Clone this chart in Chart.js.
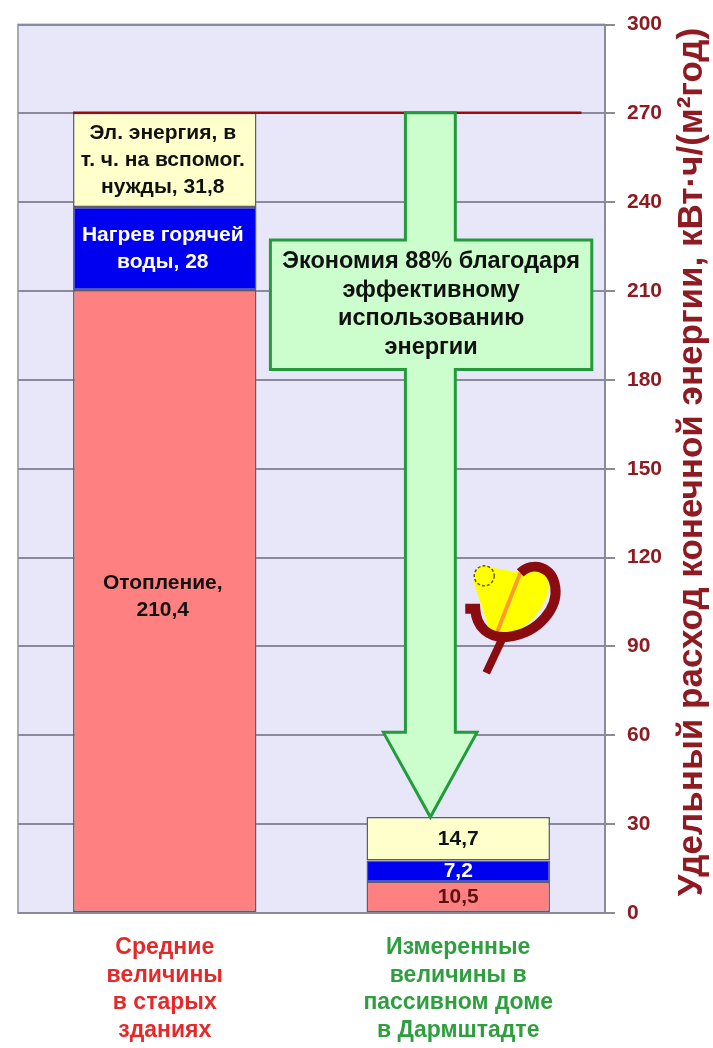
<!DOCTYPE html>
<html>
<head>
<meta charset="utf-8">
<script src="https://cdn.jsdelivr.net/npm/chart.js@4.4.1/dist/chart.umd.min.js"></script>
<style>
  html, body { margin: 0; padding: 0; background: #fff; }
  canvas { display: block; }
</style>
</head>
<body>
<canvas id="energyChart" width="713" height="1048"></canvas>
<script>
// ---------- data ----------
const categories = [
  ["Средние", "величины", "в старых", "зданиях"],
  ["Измеренные", "величины в", "пассивном доме", "в Дармштадте"]
];
const heating = [210.4, 10.5];
const hotWater = [28, 7.2];
const electricity = [31.8, 14.7];

const heatingLabels = [["Отопление,", "210,4"], ["10,5"]];
const hotWaterLabels = [["Нагрев горячей", "воды, 28"], ["7,2"]];
const electricityLabels = [["Эл. энергия, в", "т. ч. на вспомог.", "нужды, 31,8"], ["14,7"]];

const yMin = 0, yMax = 300, yStep = 30;
const axisTitle = "Удельный расход конечной энергии, кВт·ч/(м²год)";
const savingsText = ["Экономия 88% благодаря", "эффективному", "использованию", "энергии"];

const FONT = "'Liberation Sans', Arial, sans-serif";
const DARK_RED = "#8e1a22";
const GRID = "#8a8a9a";

const total = (i) => heating[i] + hotWater[i] + electricity[i];

// ---------- plugins ----------
const plotFrame = {
  id: "plotFrame",
  beforeDraw(chart) {
    const { ctx, chartArea: a } = chart;
    ctx.save();
    ctx.fillStyle = "#e7e7f9";
    ctx.fillRect(a.left, a.top, a.right - a.left, a.bottom - a.top);
    ctx.strokeStyle = "#a9a9b8";
    ctx.lineWidth = 2;
    ctx.beginPath();
    ctx.moveTo(a.right, a.top);
    ctx.lineTo(a.left, a.top);
    ctx.lineTo(a.left, a.bottom);
    ctx.lineTo(a.right, a.bottom);
    ctx.stroke();
    ctx.restore();
  }
};

function drawLines(ctx, lines, x, cy, lh) {
  const y0 = cy - (lines.length - 1) * lh / 2;
  lines.forEach((t, k) => ctx.fillText(t, x, y0 + k * lh));
}

const segmentText = {
  id: "segmentText",
  afterDatasetsDraw(chart) {
    const { ctx } = chart;
    const sets = [
      { labels: heatingLabels, color: ["#111", "#5a1212"] },
      { labels: hotWaterLabels, color: ["#fff", "#fff"] },
      { labels: electricityLabels, color: ["#111", "#111"] }
    ];
    ctx.save();
    ctx.textAlign = "center";
    ctx.textBaseline = "middle";
    ctx.font = "bold 21px " + FONT;
    sets.forEach((s, d) => {
      chart.getDatasetMeta(d).data.forEach((bar, i) => {
        const cy = (bar.y + bar.base) / 2;
        ctx.fillStyle = s.color[i];
        drawLines(ctx, s.labels[i], bar.x - (i === 0 ? 2 : 0), cy - (i === 0 && d === 0 ? 4 : 0), 27);
      });
    });
    ctx.restore();
  }
};

const savingsArrow = {
  id: "savingsArrow",
  afterDatasetsDraw(chart) {
    const { ctx, scales: { x, y } } = chart;
    const px = (v) => x.getPixelForValue(v);
    const py = (v) => y.getPixelForValue(v);

    // reference line at the old-building total
    const bar0 = chart.getDatasetMeta(0).data[0];
    ctx.save();
    ctx.strokeStyle = "#a3080c";
    ctx.lineWidth = 2.5;
    ctx.beginPath();
    ctx.moveTo(bar0.x - bar0.width / 2, py(total(0)));
    ctx.lineTo(px(1.42), py(total(0)));
    ctx.stroke();

    // arrow with text box
    const sL = px(0.82), sR = px(0.99);
    const bL = px(0.36), bR = px(1.455);
    const hL = px(0.745), hR = px(1.064), tip = px(0.905);
    const top = py(total(0)), boxT = py(227.3), boxB = py(183.5);
    const headY = py(61), tipY = py(total(1));
    ctx.fillStyle = "#ccfdcc";
    ctx.strokeStyle = "#239b3c";
    ctx.lineWidth = 3;
    ctx.lineJoin = "miter";
    ctx.beginPath();
    ctx.moveTo(sL, top);
    ctx.lineTo(sR, top);
    ctx.lineTo(sR, boxT);
    ctx.lineTo(bR, boxT);
    ctx.lineTo(bR, boxB);
    ctx.lineTo(sR, boxB);
    ctx.lineTo(sR, headY);
    ctx.lineTo(hR, headY);
    ctx.lineTo(tip, tipY);
    ctx.lineTo(hL, headY);
    ctx.lineTo(sL, headY);
    ctx.lineTo(sL, boxB);
    ctx.lineTo(bL, boxB);
    ctx.lineTo(bL, boxT);
    ctx.lineTo(sL, boxT);
    ctx.closePath();
    ctx.fill();
    ctx.stroke();

    ctx.fillStyle = "#111";
    ctx.font = "bold 23.5px " + FONT;
    ctx.textAlign = "center";
    ctx.textBaseline = "middle";
    drawLines(ctx, savingsText, (bL + bR) / 2, (boxT + boxB) / 2, 28.5);

    // passive house logo
    const ox = px(1), oy = py(100);
    const P = (dx, dy) => [ox + dx, oy + dy];
    ctx.fillStyle = "#ffff00";
    ctx.beginPath();
    ctx.moveTo(...P(15, -36));
    ctx.lineTo(...P(35, -49));
    ctx.lineTo(...P(62, -44));
    ctx.bezierCurveTo(...P(100, -62), ...P(104, -8), ...P(50, 20));
    ctx.lineTo(...P(33, 19));
    ctx.closePath();
    ctx.fill();
    ctx.beginPath();
    ctx.arc(...P(26, -41), 10, 0, Math.PI * 2);
    ctx.fill();
    ctx.setLineDash([3, 2]);
    ctx.strokeStyle = "#6b5a00";
    ctx.lineWidth = 1.5;
    ctx.stroke();
    ctx.setLineDash([]);

    ctx.strokeStyle = "#ff9a2e";
    ctx.lineWidth = 4;
    ctx.beginPath();
    ctx.moveTo(...P(62, -44));
    ctx.lineTo(...P(37, 20));
    ctx.stroke();

    ctx.strokeStyle = "#8a0c10";
    ctx.lineWidth = 10;
    ctx.lineCap = "butt";
    ctx.beginPath();
    ctx.moveTo(...P(7, -8));
    ctx.lineTo(...P(17, -8));
    ctx.bezierCurveTo(...P(18, 10), ...P(30, 22), ...P(50, 20));
    ctx.bezierCurveTo(...P(82, 16), ...P(100, -10), ...P(97, -30));
    ctx.bezierCurveTo(...P(94, -50), ...P(75, -56), ...P(62, -44));
    ctx.stroke();
    ctx.lineWidth = 8;
    ctx.beginPath();
    ctx.moveTo(...P(44, 22));
    ctx.lineTo(...P(28, 56));
    ctx.stroke();
    ctx.restore();
  }
};

const rightTitle = {
  id: "rightTitle",
  afterDraw(chart) {
    const { ctx } = chart;
    ctx.save();
    ctx.translate(692, 462);
    ctx.rotate(-Math.PI / 2);
    ctx.fillStyle = DARK_RED;
    ctx.font = "bold 35px " + FONT;
    ctx.textAlign = "center";
    ctx.textBaseline = "middle";
    ctx.fillText(axisTitle, 0, 0);
    ctx.restore();
  }
};

// ---------- chart ----------
const ctx = document.getElementById("energyChart").getContext("2d");
new Chart(ctx, {
  type: "bar",
  data: {
    labels: categories,
    datasets: [
      { label: "Отопление", data: heating, backgroundColor: "#ff8080" },
      { label: "Нагрев горячей воды", data: hotWater, backgroundColor: "#0000f0" },
      { label: "Эл. энергия", data: electricity, backgroundColor: "#ffffcc" }
    ].map(d => Object.assign(d, {
      borderColor: "#5e5e66", borderWidth: 1.5, borderSkipped: false,
      barPercentage: 0.625, categoryPercentage: 1
    }))
  },
  options: {
    responsive: false,
    animation: false,
    layout: { padding: { left: 18, top: 22, right: 0, bottom: 0 } },
    plugins: { legend: { display: false }, tooltip: { enabled: false } },
    scales: {
      x: {
        stacked: true,
        grid: { display: false },
        border: { display: false },
        ticks: {
          padding: 13,
          maxRotation: 0,
          autoSkip: false,
          font: { family: FONT, size: 23, weight: "bold", lineHeight: 1.2 },
          color: (c) => c.index === 0 ? "#e62828" : "#2e9e3e"
        },
        afterFit: (s) => { s.height = 135; }
      },
      y: {
        stacked: true,
        position: "right",
        min: yMin,
        max: yMax,
        grid: { color: GRID, lineWidth: 2, tickLength: 10 },
        border: { color: GRID, width: 2 },
        ticks: {
          stepSize: yStep,
          padding: 12,
          color: DARK_RED,
          font: { family: FONT, size: 21, weight: "bold" }
        },
        afterFit: (s) => { s.width = 108; }
      }
    }
  },
  plugins: [plotFrame, segmentText, savingsArrow, rightTitle]
});
</script>
</body>
</html>
